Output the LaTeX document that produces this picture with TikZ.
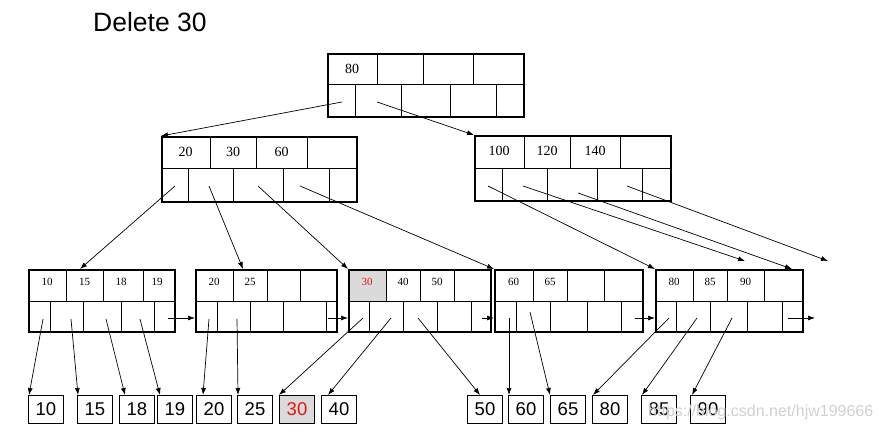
\documentclass[tikz,border=0pt]{standalone}
\usepackage{fontspec}
\setmainfont{Liberation Serif}
\newfontfamily\sansf{Liberation Sans}
\usetikzlibrary{arrows.meta,calc}
\definecolor{cellgray}{RGB}{218,218,218}
\definecolor{delred}{RGB}{230,20,20}
\newcommand\bpnode[8]{% name, x1, y1, x2, ymid, y2, topdivs, botdivs
  \foreach \xx in {#7} \draw[div] (\xx,#3) -- (\xx,#5);
  \foreach \xx in {#8} \draw[div] (\xx,#5) -- (\xx,#6);
  \draw[div] (#2,#5) -- (#4,#5);
  \node[treebox, minimum width={(#4)-(#2)}, minimum height={(#6)-(#3)}] (#1) at (#2,#3) {};
}
\begin{document}
\begin{tikzpicture}[x=1pt,y=-1pt,
  treebox/.style={draw, line width=2.2pt, inner sep=0pt, anchor=north west},
  div/.style={line width=0.9pt},
  ptr/.style={line width=0.7pt, -{Latex[length=7pt,width=5pt]}},
  bigkey/.style={font=\fontsize{14}{14}\selectfont, inner sep=0pt},
  smallkey/.style={font=\fontsize{11}{11}\selectfont, inner sep=0pt},
  dbox/.style={draw, line width=1pt, minimum width=35pt, minimum height=28pt, inner sep=0pt, anchor=north west, font=\sansf\fontsize{18.5}{18.5}\selectfont},
]
\fill[white] (0,0) rectangle (880,433);
\useasboundingbox (0,0) rectangle (880,433);

% title
\node[anchor=base west, inner sep=0pt, font=\sansf\fontsize{26.5}{26.5}\selectfont] (title) at (93,32) {Delete 30};

% root
\bpnode{R}{327}{53}{523}{84}{116}{377,423,473}{355,401,450,496}
\node[bigkey] (k80r) at (352,69) {80};

% level 2
\bpnode{A}{161}{136}{356}{168}{201}{210,256,307}{188,233,283,329}
\node[bigkey] (k20a) at (185.5,152) {20};
\node[bigkey] (k30a) at (233,152) {30};
\node[bigkey] (k60a) at (281.5,152) {60};

\bpnode{B}{474}{135}{670}{168}{200}{524,570,620}{502,547,597,642}
\node[bigkey] (k100) at (499,151) {100};
\node[bigkey] (k120) at (547,151) {120};
\node[bigkey] (k140) at (595,151) {140};

% leaves
\bpnode{L1}{28}{269}{174}{301}{331}{66,103,143}{50,83,121,154}
\node[smallkey] (l10) at (47,282) {10};
\node[smallkey] (l15) at (84.5,282) {15};
\node[smallkey] (l18) at (121,282) {18};
\node[smallkey] (l19) at (157,282) {19};

\bpnode{L2}{195}{269}{336}{301}{331}{233,267,300}{217,250,283,326}
\node[smallkey] (l20) at (214,282) {20};
\node[smallkey] (l25) at (250,282) {25};

\fill[cellgray] (348,269) rectangle (386,301);
\bpnode{L3}{348}{269}{490}{301}{331}{386,420,454}{369,403,437,471}
\node[smallkey, text=delred] (l30) at (367,282) {30};
\node[smallkey] (l40) at (403,282) {40};
\node[smallkey] (l50) at (437,282) {50};

\bpnode{L4}{494}{269}{642}{301}{331}{533,567,604}{516,550,587,621}
\node[smallkey] (l60) at (513.5,282) {60};
\node[smallkey] (l65) at (550,282) {65};

\bpnode{L5}{655}{269}{802}{301}{331}{693,727,764}{676,710,747,782}
\node[smallkey] (l80) at (674,282) {80};
\node[smallkey] (l85) at (710,282) {85};
\node[smallkey] (l90) at (745.5,282) {90};

% data boxes
\node[dbox] (d10) at (28,395) {10};
\node[dbox] (d15) at (77,395) {15};
\node[dbox] (d18) at (119,395) {18};
\node[dbox] (d19) at (157,395) {19};
\node[dbox] (d20) at (196,395) {20};
\node[dbox] (d25) at (237,395) {25};
\node[dbox, fill=cellgray, text=delred] (d30) at (279,395) {30};
\node[dbox] (d40) at (321,395) {40};
\node[dbox] (d50) at (467,395) {50};
\node[dbox] (d60) at (508,395) {60};
\node[dbox] (d65) at (550,395) {65};
\node[dbox] (d80) at (592,395) {80};
\node[dbox] (d85) at (641,395) {85};
\node[dbox] (d90) at (690,395) {90};

% pointer start points
\coordinate (r1) at (342,102);
\coordinate (r2) at (377,102);
\coordinate (a1) at (175,186);
\coordinate (a2) at (209,186);
\coordinate (a3) at (258,186);
\coordinate (a4) at (300,186);
\coordinate (b1) at (488,186);
\coordinate (b2) at (523,186);
\coordinate (b3) at (578,193);
\coordinate (b4) at (627,186);
\coordinate (p11) at (43,319);
\coordinate (p12) at (71,319);
\coordinate (p13) at (106,319);
\coordinate (p14) at (140,319);
\coordinate (p15) at (168,318);
\coordinate (p21) at (209,319);
\coordinate (p22) at (237,319);
\coordinate (p25) at (328,318);
\coordinate (p31) at (363,318);
\coordinate (p32) at (391,318);
\coordinate (p33) at (418,318);
\coordinate (p35) at (482,318);
\coordinate (p41) at (509,318);
\coordinate (p42) at (530,312);
\coordinate (p45) at (635,318);
\coordinate (p51) at (669,318);
\coordinate (p52) at (697,318);
\coordinate (p53) at (732,318);
\coordinate (p55) at (788,318);

% pointer targets
\coordinate (tL1) at (80,269);
\coordinate (tL2) at (243,269);
\coordinate (tL5) at (792,269);
\coordinate (free1) at (745,261);
\coordinate (free2) at (828,261);
\coordinate (free3) at (815,318);

% root pointers
\draw[ptr] (r1) -- (A.north west);
\draw[ptr] (r2) -- (B.north west);
% level-2 pointers
\draw[ptr] (a1) -- (tL1);
\draw[ptr] (a2) -- (tL2);
\draw[ptr] (a3) -- (L3.north west);
\draw[ptr] (a4) -- (L4.north west);
\draw[ptr] (b1) -- (L5.north west);
\draw[ptr] (b2) -- (free1);
\draw[ptr] (b3) -- (tL5);
\draw[ptr] (b4) -- (free2);
% leaf pointers to data
\draw[ptr] (p11) -- ($(d10.north west)+(1,0)$);
\draw[ptr] (p12) -- ($(d15.north west)+(1,0)$);
\draw[ptr] (p13) -- ($(d18.north west)+(6,0)$);
\draw[ptr] (p14) -- ($(d19.north west)+(3,0)$);
\draw[ptr] (p21) -- ($(d20.north west)+(7,0)$);
\draw[ptr] (p22) -- ($(d25.north west)+(1,0)$);
\draw[ptr] (p31) -- (d30.north west);
\draw[ptr] (p32) -- ($(d40.north west)+(7,0)$);
\draw[ptr] (p33) -- ($(d50.north west)+(13,0)$);
\draw[ptr] (p41) -- ($(d60.north west)+(1,0)$);
\draw[ptr] (p42) -- (d65.north west);
\draw[ptr] (p51) -- ($(d80.north west)+(1,0)$);
\draw[ptr] (p52) -- ($(d85.north west)+(1,0)$);
\draw[ptr] (p53) -- ($(d90.north west)+(2,0)$);
% next-leaf pointers
\draw[ptr] (p15) -- (p15 -| L2.west);
\draw[ptr] (p25) -- (p25 -| L3.west);
\draw[ptr] (p35) -- (p35 -| L4.west);
\draw[ptr] (p45) -- (p45 -| L5.west);
\draw[ptr] (p55) -- (free3);

% watermark
\node[anchor=base west, inner sep=0pt, text=black!18, font=\sansf\fontsize{16}{16}\selectfont] (wm) at (648,416) {https://blog.csdn.net/hjw199666};
\end{tikzpicture}
\end{document}
